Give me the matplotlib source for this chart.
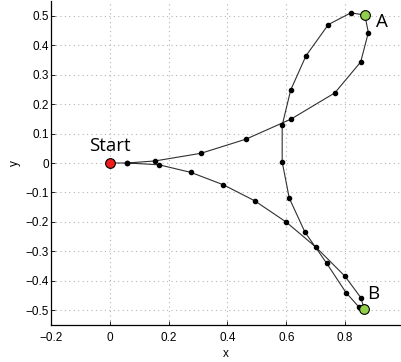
import matplotlib
matplotlib.use("Agg")
import matplotlib.pyplot as plt

# path: Start -> upper loop (A) -> down to B -> back to start
path_x = [0, 0.06, 0.154, 0.31, 0.463, 0.616, 0.765, 0.853, 0.879, 0.867,
          0.82, 0.743, 0.667, 0.615, 0.586, 0.586, 0.61, 0.663, 0.737, 0.803,
          0.848, 0.865, 0.854, 0.8, 0.701, 0.599, 0.492, 0.386, 0.276, 0.167, 0.06]
path_y = [0, 0, 0.007, 0.033, 0.081, 0.149, 0.238, 0.343, 0.443, 0.502,
          0.51, 0.47, 0.364, 0.248, 0.128, 0.004, -0.119, -0.234, -0.34, -0.44,
          -0.49, -0.497, -0.458, -0.385, -0.286, -0.2, -0.128, -0.074, -0.032, -0.006, 0]

start = (0.0, 0.0)
point_a = (0.867, 0.502)
point_b = (0.865, -0.497)

xticks = [-0.2, 0, 0.2, 0.4, 0.6, 0.8]
yticks = [-0.5, -0.4, -0.3, -0.2, -0.1, 0, 0.1, 0.2, 0.3, 0.4, 0.5]

fig = plt.figure(figsize=(4.01, 3.62), dpi=100)
ax = fig.add_axes([51 / 401, 37 / 362, 350 / 401, 324 / 362])

ax.plot(path_x, path_y, color='#303030', linewidth=0.8, marker='o',
        markersize=3, markerfacecolor='black', markeredgecolor='black', zorder=3)

ax.plot(*start, 'o', markersize=7, markerfacecolor='#ee1c1c', markeredgecolor='black',
        markeredgewidth=0.8, zorder=4)
ax.plot(*point_a, 'o', markersize=7, markerfacecolor='#8fcf4c', markeredgecolor='black',
        markeredgewidth=0.8, zorder=4)
ax.plot(*point_b, 'o', markersize=7, markerfacecolor='#8fcf4c', markeredgecolor='black',
        markeredgewidth=0.8, zorder=4)

lab_font = dict(family='Open Sans', fontsize=13.5, color='black')
ax.text(0.0, 0.028, 'Start', ha='center', va='bottom', **lab_font)
ax.text(0.905, 0.479, 'A', ha='left', va='center', **lab_font)
ax.text(0.876, -0.445, 'B', ha='left', va='center', **lab_font)

ax.set_xlim(-0.2, 0.99)
ax.set_ylim(-0.55, 0.55)
ax.set_xticks(xticks)
ax.set_yticks(yticks)
ax.set_xticklabels([f'{t:g}'.replace('-', '\u2212') for t in xticks])
ax.set_yticklabels([f'{t:g}'.replace('-', '\u2212') for t in yticks])

ax.grid(True, color='#b4b4b4', linestyle=(0, (1, 3)), linewidth=0.8)
ax.set_axisbelow(True)
ax.spines['top'].set_visible(False)
ax.spines['right'].set_visible(False)
ax.spines['left'].set_linewidth(0.9)
ax.spines['bottom'].set_linewidth(0.9)
ax.tick_params(direction='in', length=3, width=0.6, labelsize=8.5)
ax.tick_params(axis='x', pad=5)
ax.tick_params(axis='y', pad=1.5)
for lbl in ax.get_xticklabels() + ax.get_yticklabels():
    lbl.set_family('Liberation Sans')

ax.set_xlabel('x', fontsize=8.5, family='Liberation Sans', labelpad=3)
ax.set_ylabel('y', fontsize=8.5, family='Liberation Sans', labelpad=3)

fig.savefig('out.png', dpi=100)
